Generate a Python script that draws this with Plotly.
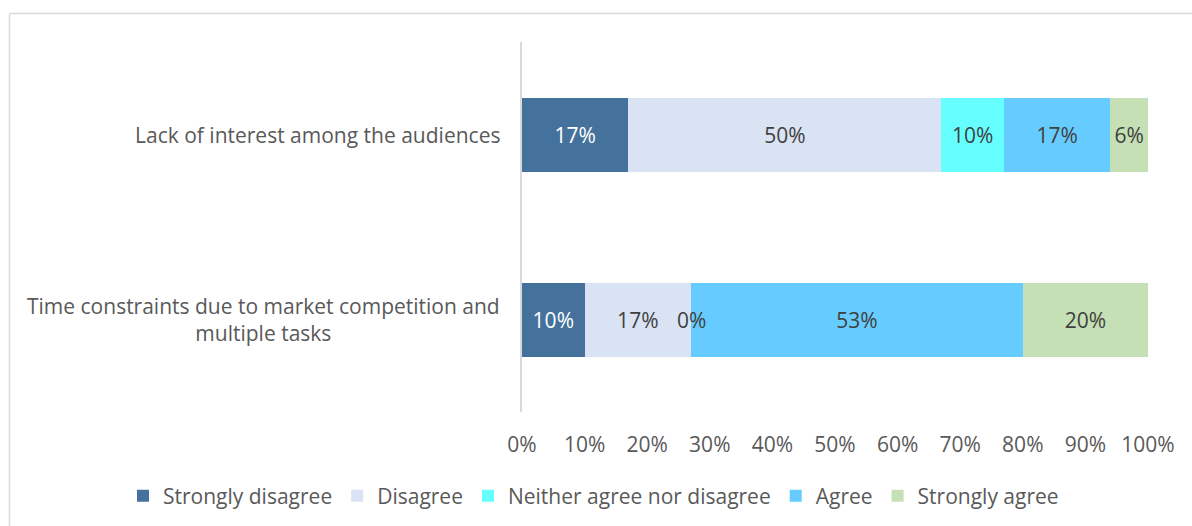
import plotly.graph_objects as go

# Survey statements (top to bottom) and response shares in percent
categories = [
    "Lack of interest among the audiences",
    "Time constraints due to market competition and<br>multiple tasks",
]
responses = ["Strongly disagree", "Disagree", "Neither agree nor disagree", "Agree", "Strongly agree"]
strongly_disagree = [17, 10]
disagree = [50, 17]
neither = [10, 0]
agree = [17, 53]
strongly_agree = [6, 20]
x_ticks = [0, 10, 20, 30, 40, 50, 60, 70, 80, 90, 100]

series = [strongly_disagree, disagree, neither, agree, strongly_agree]
colors = ["#44729D", "#DAE3F3", "#66FFFF", "#66CCFF", "#C5E0B4"]
text_colors = ["#FFFFFF", "#404040", "#404040", "#404040", "#404040"]

FONT = "Open Sans"
FS = 21
y_pos = [0, 1]

# plot-area geometry in pixels
L, R, T, B = 522, 44, 42, 114
PW, PH = 1192 - L - R, 526 - T - B

fig = go.Figure()
for name, vals, col, tcol in zip(responses, series, colors, text_colors):
    fig.add_trace(go.Bar(
        name=name,
        y=y_pos,
        x=vals,
        orientation="h",
        marker=dict(color=col, line=dict(width=0)),
        width=0.4,
        text=[f"{v}%" if v > 0 else "" for v in vals],
        textposition="inside",
        insidetextanchor="middle",
        textfont=dict(family=FONT, size=FS, color=tcol),
        hoverinfo="skip",
    ))

# Zero-width segments still get their label, placed at the segment boundary
annotations = []
for i in range(len(categories)):
    cum = 0
    for vals in series:
        if vals[i] == 0:
            annotations.append(dict(
                x=cum, y=y_pos[i], xref="x", yref="y", text=f"{vals[i]}%",
                showarrow=False, font=dict(family=FONT, size=FS, color="#404040"),
            ))
        cum += vals[i]

# Category labels, centred line by line, to the left of the bars
for cat, yp in zip(categories, y_pos):
    annotations.append(dict(
        x=0, y=yp, xref="paper", yref="y", text=cat, showarrow=False,
        xanchor="right", yanchor="middle", align="center", xshift=-20,
        font=dict(family=FONT, size=FS, color="#595959"),
    ))

frame_x = (9.5 - L) / PW
frame_y = (T + PH - 13.5) / PH

fig.update_layout(
    width=1192, height=526,
    margin=dict(l=L, r=R, t=T, b=B, autoexpand=False),
    paper_bgcolor="white", plot_bgcolor="white",
    barmode="stack",
    uniformtext=dict(minsize=FS, mode="show"),
    showlegend=True,
    legend=dict(
        orientation="h",
        x=(123 - L) / PW, xanchor="left",
        y=-(496 - T - PH) / PH, yanchor="middle",
        font=dict(family=FONT, size=FS, color="#595959"),
        traceorder="normal", itemclick=False, itemdoubleclick=False,
    ),
    xaxis=dict(
        range=[0, 100], tickvals=x_ticks, ticktext=[f"{t}%" for t in x_ticks],
        showgrid=False, zeroline=False, showline=False,
        ticks="outside", ticklen=14, tickcolor="rgba(0,0,0,0)",
        tickfont=dict(family=FONT, size=FS, color="#595959"),
        fixedrange=True,
    ),
    yaxis=dict(
        range=[1.5, -0.5], showticklabels=False, showgrid=False, zeroline=False,
        showline=True, linecolor="#D9D9D9", linewidth=1.5, ticks="",
        fixedrange=True,
    ),
    annotations=annotations,
    shapes=[
        # light frame around the chart area
        dict(type="line", xref="paper", yref="paper",
             x0=frame_x, x1=1.2, y0=frame_y, y1=frame_y,
             line=dict(color="#D9D9D9", width=1.5)),
        dict(type="line", xref="paper", yref="paper",
             x0=frame_x, x1=frame_x, y0=frame_y, y1=-0.5,
             line=dict(color="#D9D9D9", width=1.5)),
    ],
)

fig.write_html("out.html")
